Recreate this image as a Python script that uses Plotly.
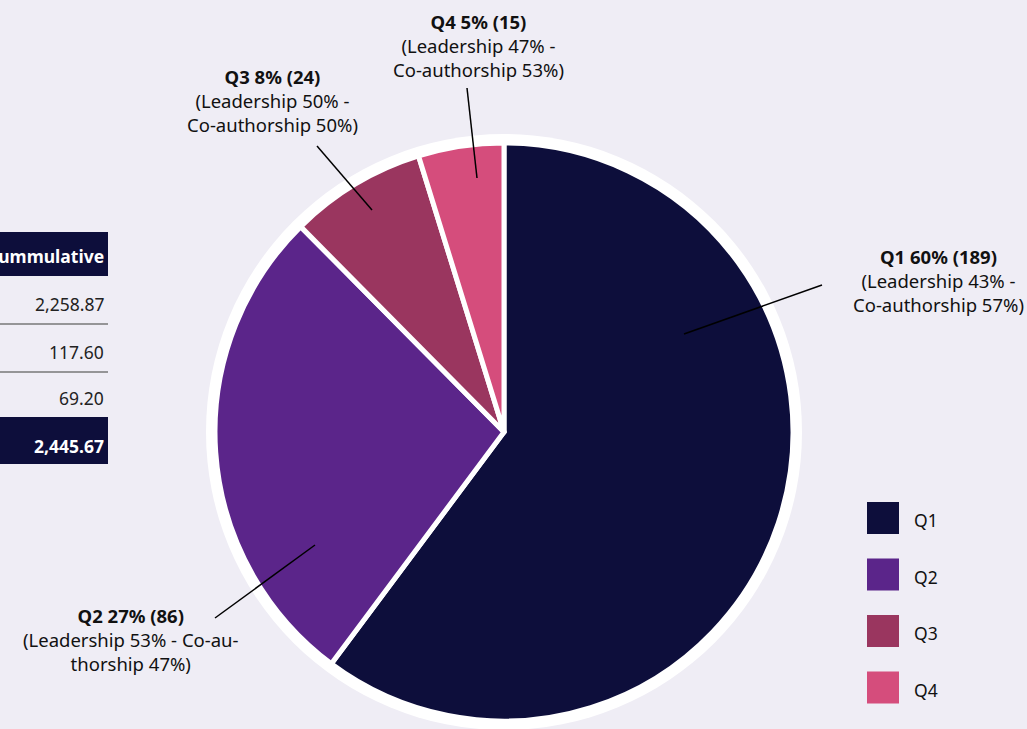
import plotly.graph_objects as go

W, H = 1027, 729

# ---- data ----
quartiles = ["Q1", "Q2", "Q3", "Q4"]
counts = [189, 86, 24, 15]
percents = [60, 27, 8, 5]
leadership = [43, 53, 50, 47]
coauthorship = [57, 47, 50, 53]
colors = ["#0d0e3b", "#5b258a", "#9a365f", "#d54d7c"]

table_values = ["2,258.87", "117.60", "69.20"]
table_total = "2,445.67"
table_header = "Cummulative"

bg = "#efedf5"
font = "Noto Sans"

def px(x):
    return x / W

def py(y):
    return 1 - y / H

cx, cy, r = 504, 432, 289

fig = go.Figure()
fig.add_trace(go.Pie(
    labels=quartiles, values=counts, sort=False, direction="clockwise", rotation=0,
    marker=dict(colors=colors, line=dict(color="white", width=5)),
    textinfo="none", hoverinfo="label+value+percent", showlegend=False,
    domain=dict(x=[px(cx - r), px(cx + r)], y=[py(cy + r), py(cy - r)]),
))

shapes = []
annotations = []

# white outer ring behind pie
R2 = 298
shapes.append(dict(type="circle", xref="paper", yref="paper", layer="below",
                   x0=px(cx - R2), x1=px(cx + R2), y0=py(cy + R2), y1=py(cy - R2),
                   fillcolor="white", line=dict(width=0)))

# labels: (text center x, top y, leader line start, end)
label_pos = {
    "Q1": (938, 242, (684, 334), (822, 285)),
    "Q2": (131, 601, (315, 545), (215, 618)),
    "Q3": (272, 62, (372, 210), (317, 146)),
    "Q4": (478, 7, (477, 178), (467, 88)),
}
for i, q in enumerate(quartiles):
    x, y, p0, p1 = label_pos[q]
    if q == "Q2":
        body = f"(Leadership {leadership[i]}% - Co-au-<br>thorship {coauthorship[i]}%)"
    else:
        body = f"(Leadership {leadership[i]}% -<br>Co-authorship {coauthorship[i]}%)"
    text = f"<b>{q} {percents[i]}% ({counts[i]})</b><br>{body}"
    annotations.append(dict(x=px(x), y=py(y), xref="paper", yref="paper", text=text,
                            showarrow=False, xanchor="center", yanchor="top", align="center",
                            font=dict(family=font, size=18.5, color="#111111")))
    shapes.append(dict(type="line", xref="paper", yref="paper",
                       x0=px(p0[0]), y0=py(p0[1]), x1=px(p1[0]), y1=py(p1[1]),
                       line=dict(color="black", width=1.5)))

# custom legend
for i, q in enumerate(quartiles):
    ty = 502 + i * 56.5
    shapes.append(dict(type="rect", xref="paper", yref="paper",
                       x0=px(867), x1=px(899), y0=py(ty + 32), y1=py(ty),
                       fillcolor=colors[i], line=dict(width=0)))
    annotations.append(dict(x=px(912), y=py(ty + 18), xref="paper", yref="paper", text=q,
                            showarrow=False, xanchor="left", yanchor="middle",
                            font=dict(family=font, size=17.5, color="#111111")))

# partial table on the left
navy = "#0d0e3b"
shapes.append(dict(type="rect", xref="paper", yref="paper", x0=px(-5), x1=px(108),
                   y0=py(276), y1=py(232), fillcolor=navy, line=dict(width=0)))
annotations.append(dict(x=px(106), y=py(256), xref="paper", yref="paper",
                        text=f"<b>{table_header}</b>", showarrow=False, xanchor="right",
                        yanchor="middle", font=dict(family=font, size=17.5, color="white")))
row_y = [304, 352, 398]
for i, v in enumerate(table_values):
    annotations.append(dict(x=px(106), y=py(row_y[i]), xref="paper", yref="paper", text=v,
                            showarrow=False, xanchor="right", yanchor="middle",
                            font=dict(family=font, size=17.5, color="#222222")))
    if i < len(table_values) - 1:
        ly = row_y[i] + 20
        shapes.append(dict(type="line", xref="paper", yref="paper", x0=px(-5), x1=px(108),
                           y0=py(ly), y1=py(ly), line=dict(color="#777777", width=1.5)))
shapes.append(dict(type="rect", xref="paper", yref="paper", x0=px(-5), x1=px(108),
                   y0=py(464), y1=py(417), fillcolor=navy, line=dict(width=0)))
annotations.append(dict(x=px(106), y=py(446), xref="paper", yref="paper",
                        text=f"<b>{table_total}</b>", showarrow=False, xanchor="right",
                        yanchor="middle", font=dict(family=font, size=17.5, color="white")))

fig.update_layout(
    width=W, height=H, margin=dict(l=0, r=0, t=0, b=0),
    paper_bgcolor=bg, plot_bgcolor=bg,
    shapes=shapes, annotations=annotations, showlegend=False,
)

fig.write_html("out.html", config={"displayModeBar": False},
               post_script="document.body.style.margin='0';document.body.style.background='%s';" % bg)
